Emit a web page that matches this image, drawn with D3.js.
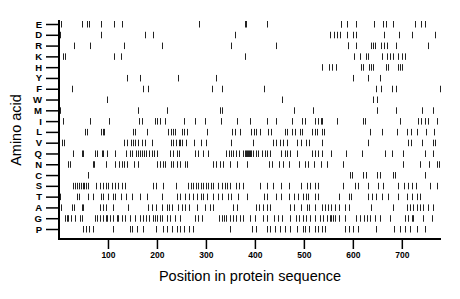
<!DOCTYPE html>
<html>
<head>
<meta charset="utf-8">
<script src="https://cdn.jsdelivr.net/npm/d3@7"></script>
<style>
  body { margin: 0; background: #fff; }
  svg { display: block; font-family: "Liberation Sans", Arial, sans-serif; }
</style>
</head>
<body>
<svg id="chart" width="460" height="299"></svg>
<script>
// amino acids, top to bottom
let aminoAcids = ["E", "D", "R", "K", "H", "Y", "F", "W", "M", "I", "L", "V", "Q", "N", "C", "S", "T", "A", "G", "P"];
let xTicks = [100, 200, 300, 400, 500, 600, 700];
let seqLength = 780;

// positions of each residue in the sequence
let posE = [1, 5, 46, 58, 62, 85, 113, 128, 286, 380, 381, 424, 575, 576, 588, 606, 643, 662, 668, 681, 726, 740, 747];
let posD = [2, 86, 176, 192, 359, 553, 562, 567, 573, 589, 601, 606, 664, 694, 720, 767];
let posR = [30, 63, 132, 210, 351, 444, 590, 591, 607, 637, 641, 646, 657, 664, 670, 689, 754];
let posK = [9, 12, 113, 127, 380, 602, 614, 626, 630, 659, 669, 676, 683, 693, 700, 706];
let posH = [538, 552, 558, 565, 616, 621, 633, 637, 642, 667, 672, 692, 697, 701];
let posY = [138, 165, 244, 320, 601, 630, 655];
let posF = [27, 171, 181, 313, 333, 418, 648, 657, 679, 689, 778];
let posW = [99, 456, 641, 650];
let posM = [2, 161, 220, 329, 332, 480, 518, 650, 689, 741, 763];
let posI = [1, 8, 63, 102, 164, 169, 196, 200, 206, 216, 256, 278, 298, 331, 363, 391, 424, 443, 475, 497, 502, 522, 529, 534, 538, 567, 620, 624, 696, 733, 740, 747, 754, 772];
let posL = [53, 57, 86, 89, 92, 152, 155, 179, 223, 228, 232, 237, 252, 256, 262, 303, 354, 359, 369, 393, 399, 403, 410, 427, 432, 461, 466, 475, 482, 492, 497, 516, 522, 527, 536, 541, 635, 660, 690, 711, 718, 731, 750, 766];
let posV = [7, 11, 133, 138, 147, 152, 156, 161, 169, 175, 189, 228, 232, 239, 245, 248, 252, 259, 276, 290, 301, 352, 397, 436, 444, 451, 458, 466, 486, 494, 505, 511, 536, 630, 712, 718, 741, 764, 767];
let posQ = [28, 46, 50, 73, 78, 87, 90, 99, 114, 137, 145, 150, 158, 162, 166, 170, 174, 178, 183, 189, 194, 201, 227, 232, 240, 245, 278, 284, 295, 305, 342, 348, 351, 356, 361, 368, 375, 380, 382, 384, 386, 388, 391, 393, 396, 402, 407, 414, 420, 425, 431, 454, 461, 466, 471, 485, 516, 522, 529, 538, 556, 586, 618, 665, 679, 703, 747, 764];
let posN = [19, 22, 70, 71, 96, 114, 123, 128, 133, 138, 154, 162, 201, 206, 212, 216, 228, 233, 241, 247, 257, 262, 315, 320, 329, 334, 349, 364, 383, 429, 434, 450, 458, 470, 490, 502, 509, 520, 534, 548, 579, 703, 738, 756, 771, 776];
let posC = [60, 594, 599, 621, 626, 650, 655, 681, 686, 747];
let posS = [28, 33, 36, 40, 44, 48, 52, 56, 60, 75, 84, 90, 96, 101, 108, 114, 121, 128, 134, 191, 199, 212, 239, 264, 269, 274, 279, 284, 289, 295, 300, 305, 310, 315, 325, 332, 339, 343, 349, 361, 368, 375, 410, 424, 437, 453, 470, 495, 506, 512, 522, 529, 579, 604, 611, 631, 652, 661, 692, 704, 713, 720, 729, 757, 772];
let posT = [2, 36, 41, 60, 69, 85, 89, 101, 110, 114, 126, 137, 150, 165, 179, 210, 240, 248, 257, 265, 274, 281, 289, 295, 303, 315, 325, 332, 346, 352, 366, 383, 419, 425, 443, 454, 470, 480, 488, 499, 505, 509, 522, 529, 572, 592, 597, 631, 640, 648, 659, 672, 692, 710, 720, 730, 737];
let posA = [4, 26, 31, 46, 50, 84, 90, 96, 110, 141, 182, 189, 199, 210, 221, 225, 230, 243, 252, 257, 266, 281, 298, 308, 315, 356, 364, 402, 409, 416, 424, 431, 471, 480, 495, 506, 511, 522, 536, 543, 550, 556, 563, 572, 584, 592, 638, 681, 710, 716, 722, 730, 737, 744, 754, 763];
let posG = [12, 16, 19, 24, 33, 43, 46, 73, 78, 84, 90, 96, 99, 104, 111, 118, 121, 128, 135, 145, 155, 165, 171, 178, 184, 192, 196, 201, 206, 210, 221, 227, 237, 247, 278, 284, 291, 327, 332, 337, 342, 349, 356, 362, 369, 376, 390, 400, 417, 424, 439, 448, 456, 471, 484, 490, 499, 504, 512, 522, 533, 539, 548, 553, 556, 560, 563, 572, 584, 606, 614, 622, 628, 636, 645, 655, 676, 706, 713, 720, 723, 744, 761];
let posP = [50, 55, 62, 69, 111, 145, 150, 159, 171, 199, 213, 220, 230, 241, 248, 255, 266, 273, 349, 395, 403, 425, 431, 441, 451, 461, 471, 485, 499, 502, 511, 522, 529, 536, 543, 584, 592, 601, 611, 648, 684, 696, 706, 716, 730, 747];

let positions = [posE, posD, posR, posK, posH, posY, posF, posW, posM, posI, posL, posV, posQ, posN, posC, posS, posT, posA, posG, posP];

let svg = d3.select("#chart");

let plotLeft = 59, plotRight = 441, plotTop = 20, plotBottom = 239;

let xScale = d3.scaleLinear().domain([0, seqLength]).range([plotLeft, plotRight]);
let yScale = d3.scalePoint().domain(aminoAcids).range([24, 229]);

// flatten into one list of marks
let marks = [];
aminoAcids.forEach((aa, i) => {
  positions[i].forEach(p => marks.push({aa: aa, pos: p}));
});

svg.append("g")
  .selectAll("line")
  .data(marks)
  .enter()
  .append("line")
  .attr("x1", d => Math.round(xScale(d.pos)) + 0.5)
  .attr("x2", d => Math.round(xScale(d.pos)) + 0.5)
  .attr("y1", d => yScale(d.aa) - 3)
  .attr("y2", d => yScale(d.aa) + 3.5)
  .attr("stroke", "#222")
  .attr("stroke-width", 1);

// y axis
let yAxis = svg.append("g")
  .attr("transform", "translate(" + plotLeft + ",0)")
  .call(d3.axisLeft(yScale).tickSize(13).tickPadding(4));
yAxis.select(".domain").remove();
yAxis.selectAll("line").attr("stroke", "#000").attr("stroke-width", 1.5);
yAxis.selectAll("text")
  .attr("font-family", "Liberation Sans, Arial, sans-serif")
  .attr("font-size", 9.5)
  .attr("font-weight", "bold")
  .attr("fill", "#000");

// x axis
let xAxis = svg.append("g")
  .attr("transform", "translate(0," + plotBottom + ")")
  .call(d3.axisBottom(xScale).tickValues(xTicks).tickSize(10).tickPadding(3));
xAxis.select(".domain").remove();
xAxis.selectAll("line").attr("stroke", "#000").attr("stroke-width", 1.5);
xAxis.selectAll("text")
  .attr("font-family", "Liberation Sans, Arial, sans-serif")
  .attr("font-size", 8.5)
  .attr("font-weight", "bold")
  .attr("fill", "#000");

// frame lines (left and bottom)
svg.append("path")
  .attr("d", "M" + plotLeft + "," + plotTop + "V" + plotBottom + "H" + plotRight)
  .attr("fill", "none")
  .attr("stroke", "#000")
  .attr("stroke-width", 2);

// titles
svg.append("text")
  .attr("x", (plotLeft + plotRight) / 2)
  .attr("y", 281)
  .attr("text-anchor", "middle")
  .attr("font-size", 14.5)
  .attr("fill", "#000")
  .text("Position in protein sequence");

svg.append("text")
  .attr("transform", "translate(21,130) rotate(-90)")
  .attr("text-anchor", "middle")
  .attr("font-size", 14.5)
  .attr("fill", "#000")
  .text("Amino acid");
</script>
</body>
</html>
